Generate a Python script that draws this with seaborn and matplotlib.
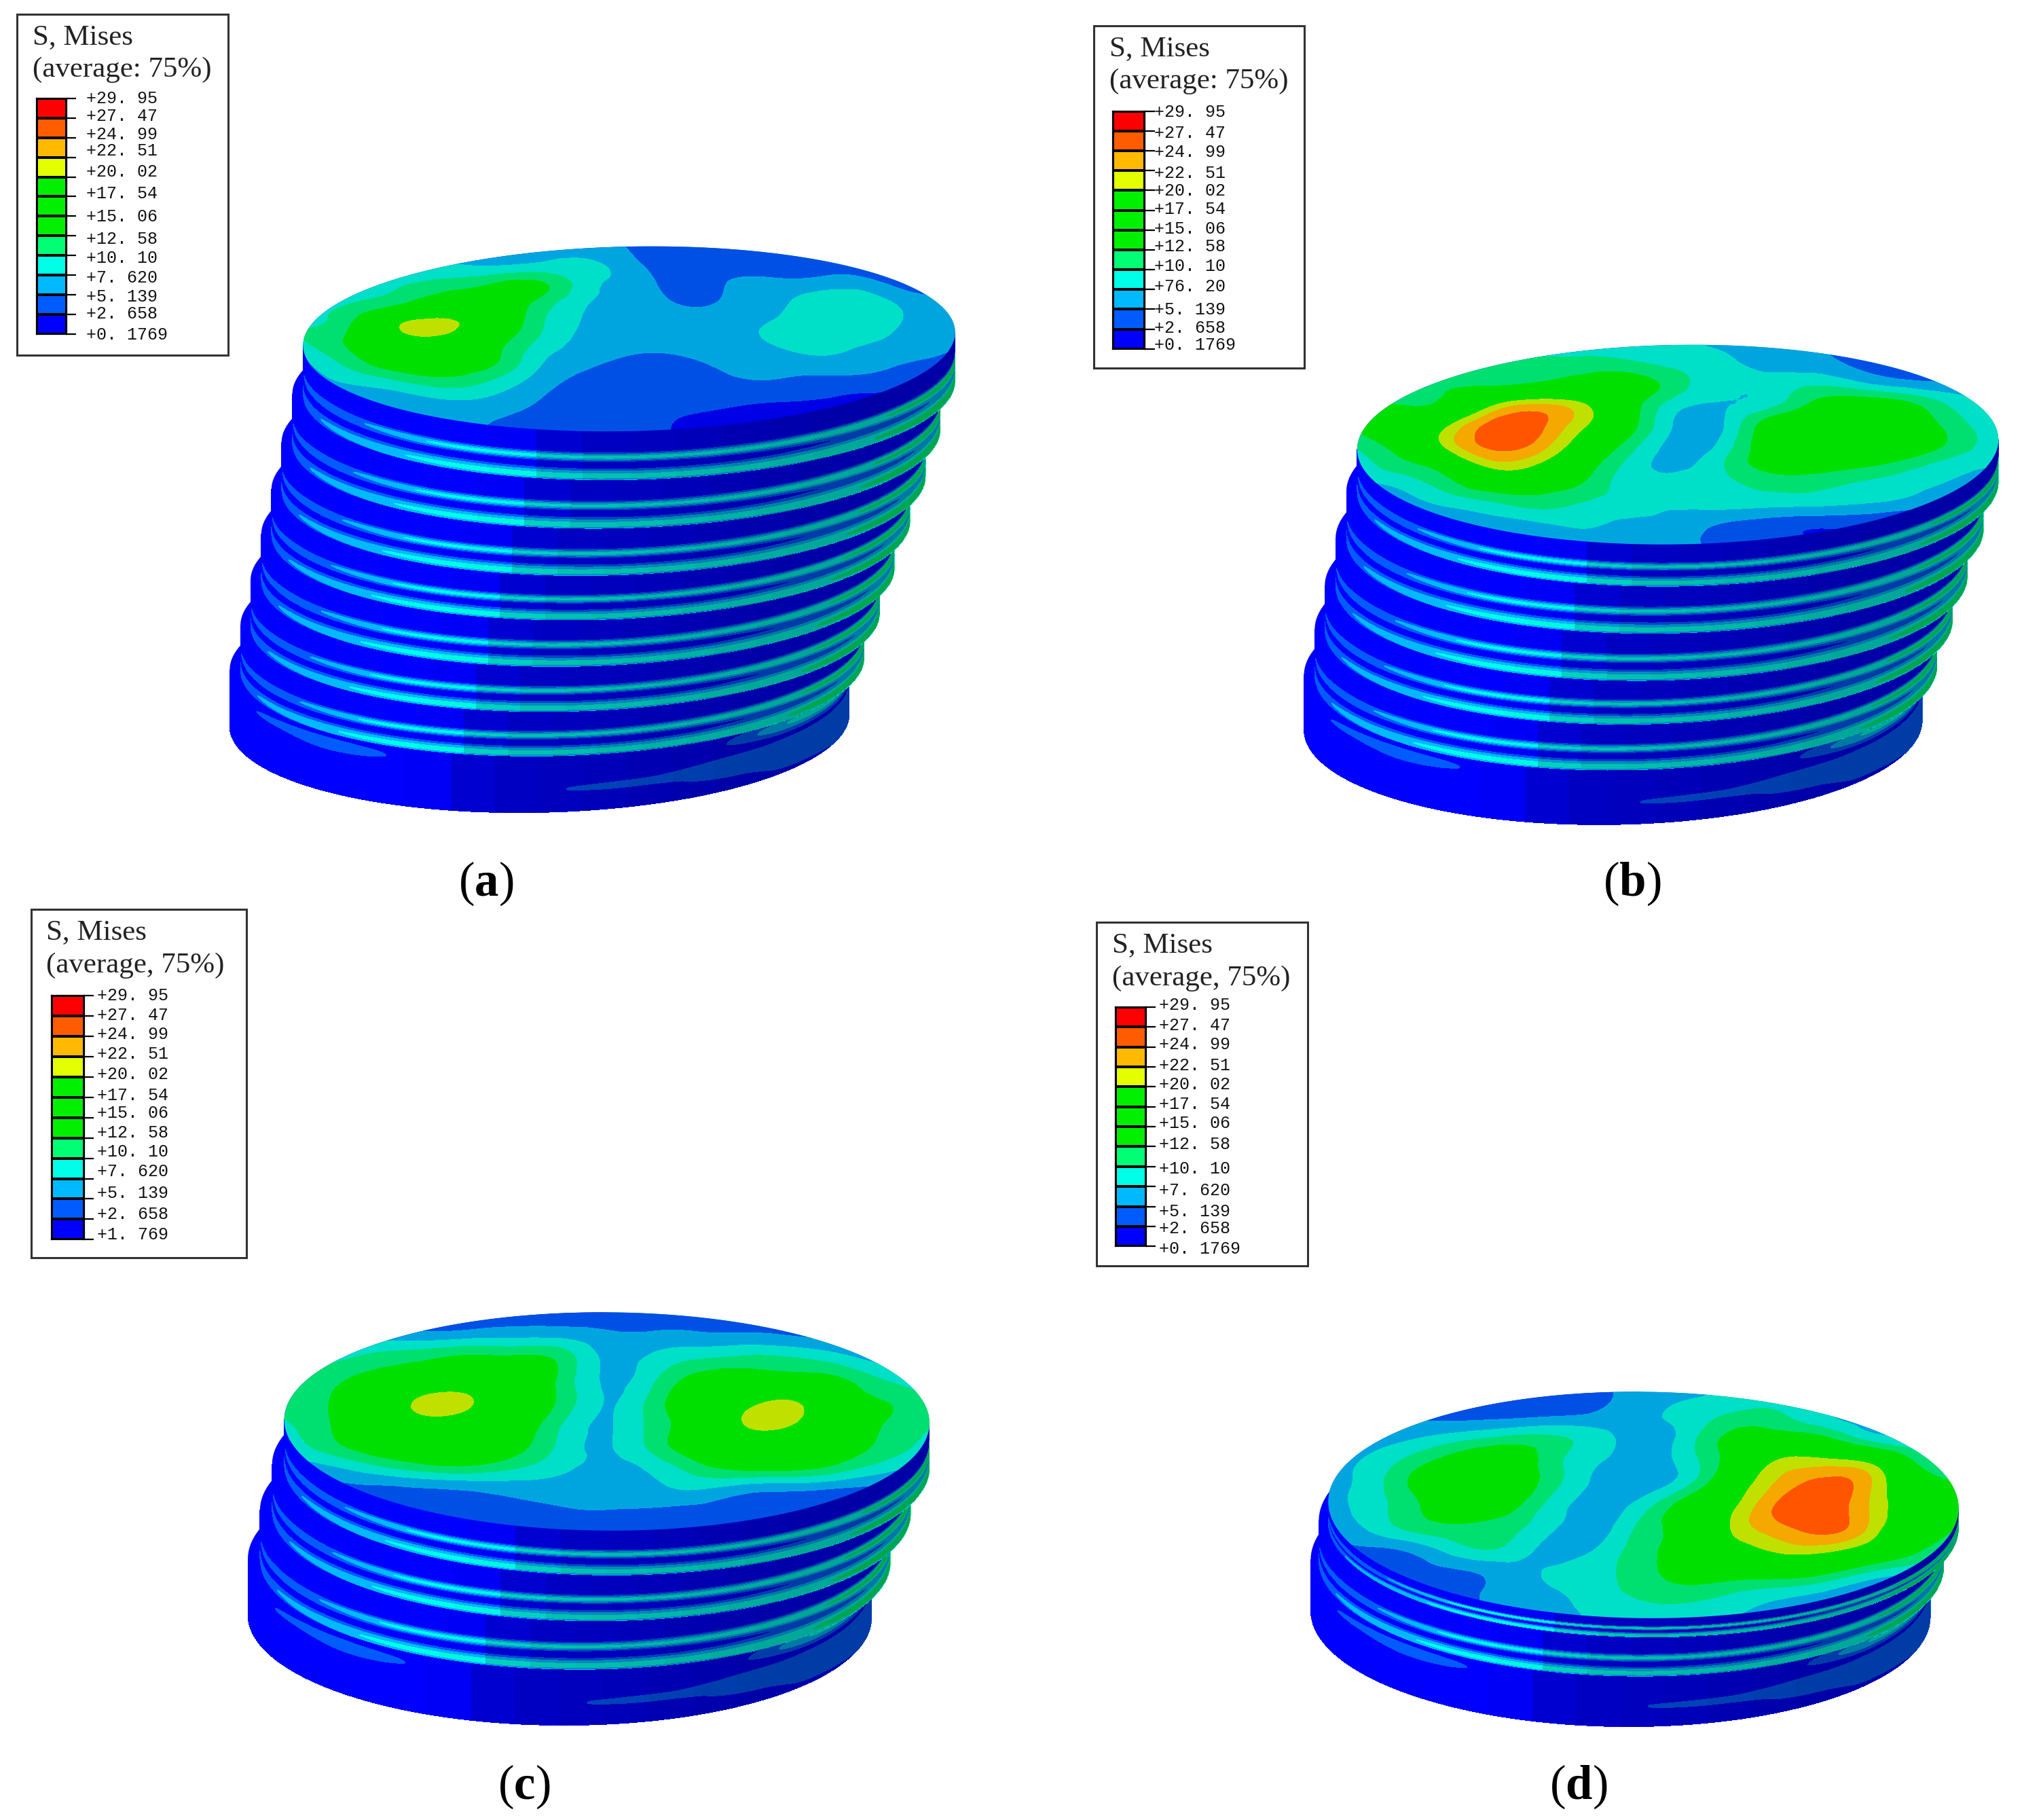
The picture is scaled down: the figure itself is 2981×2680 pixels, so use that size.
import numpy as np
import matplotlib
matplotlib.use("Agg")
import matplotlib.pyplot as plt
from matplotlib.colors import ListedColormap, BoundaryNorm
from matplotlib.patches import Polygon, Rectangle
from matplotlib.tri import Triangulation, UniformTriRefiner
import seaborn as sns

sns.set_theme(style="white")
plt.rcParams['font.family'] = ['Liberation Serif', 'DejaVu Sans']
plt.rcParams['mathtext.fontset'] = 'custom'
plt.rcParams['mathtext.bf'] = 'Liberation Serif:bold'

W, H = 2981, 2680
SCALE = 0.992  # my pixel readings run slightly wide

# Legend values (MPa), low to high
stress_ticks = [0.1769, 2.658, 5.139, 7.620, 10.10, 12.58, 15.06, 17.54, 20.02, 22.51, 24.99, 27.47, 29.95]
labels_a = ["+29. 95", "+27. 47", "+24. 99", "+22. 51", "+20. 02", "+17. 54", "+15. 06", "+12. 58", "+10. 10",
            "+7. 620", "+5. 139", "+2. 658", "+0. 1769"]
labels_b = labels_a[:9] + ["+76. 20"] + labels_a[10:]
labels_c = labels_a[:12] + ["+1. 769"]
labels_d = labels_a

legend_colors = ["#0000ff", "#005cff", "#00b9ff", "#00ffe8", "#00ff74", "#00f000", "#00f000", "#00f000",
                 "#e3ff00", "#ffb900", "#ff5c00", "#ff0000"]
surface_colors = ["#0000e6", "#0050e6", "#00a5e0", "#00dfc8", "#00e070", "#00e000", "#00e000", "#00e000",
                  "#c0e000", "#f5a800", "#ff5500", "#e60000"]

# Von Mises stress on each top plate: rows go from far rim to
# near rim, columns go left to right across the plate
top_a = [
    [7, 7, 7, 7, 7, 6.5, 6, 5, 3.5, 3.5, 2.5, 2, 2, 2, 3],
    [8, 8, 8.5, 8.5, 8, 8.5, 8.5, 6, 4, 4, 3.5, 3.5, 3, 3, 3.5],
    [8, 9, 10, 11.5, 13, 13.5, 9, 6.5, 4.5, 5, 5.5, 5.5, 5.5, 3, 4],
    [9, 10.5, 13, 16, 16, 12, 8, 6.5, 5, 5.2, 6.5, 8.5, 8.5, 6, 5],
    [10, 12.5, 19.5, 21, 17, 11, 7.5, 6.2, 6, 6, 7.3, 9, 9, 7.4, 5.5],
    [9.5, 13, 17, 18, 14.5, 10, 7, 6, 6, 6.2, 8, 9, 8.5, 7, 5.5],
    [7, 11, 14.5, 15, 13.5, 8.5, 6, 5, 5, 5.8, 6.5, 7.8, 7, 6, 5],
    [6, 8, 10, 12, 10.5, 7, 4.8, 4, 4, 5, 5.5, 5.5, 5.5, 4.5, 4],
    [6, 6, 6.5, 7.8, 7.5, 5.5, 4, 4, 4, 4, 4, 3.5, 3, 3, 3],
    [6, 6, 6, 6, 5.5, 4.5, 3.5, 3.5, 3, 2.5, 2, 2, 2, 2, 2],
    [6, 6, 6, 6, 5, 4, 3.5, 3.5, 2.5, 2, 2, 2, 2, 2, 2],
]
top_b = [
    [9, 9, 9, 9, 8.5, 8.5, 8, 8, 7, 6.5, 5.5, 4, 3, 3, 4],
    [11, 11, 11, 10.5, 11, 11.5, 11, 9.5, 8.5, 6.5, 6, 4.5, 4, 4, 5],
    [11.5, 12, 12.5, 13, 14, 15, 14.5, 11, 8.5, 8.5, 9.5, 7.5, 5.5, 5, 6],
    [12, 13, 14.5, 21, 23.5, 20.3, 14, 8.5, 7.5, 9, 13, 14, 12.5, 9, 8],
    [12.6, 15, 20.5, 26.5, 25.5, 20, 13.5, 7, 7.5, 14, 16, 16, 15, 11, 9],
    [10, 14, 20.5, 25.5, 23.5, 17, 11, 6.5, 8.5, 15, 17, 17, 16, 12, 9],
    [8.5, 11, 14.5, 20.5, 19, 14, 9, 7, 10, 14, 15, 14, 12, 9.5, 8.5],
    [7, 7.8, 11, 14, 14, 12, 8.5, 8.5, 9.5, 11, 11, 10, 9, 7.5, 6],
    [7, 7, 7.5, 9, 10.5, 9.5, 8.5, 8, 8.5, 8.5, 8.5, 8, 7, 5, 4],
    [6.5, 6.5, 6.5, 6.5, 7, 7.8, 7, 6.5, 5, 4, 3.5, 3.5, 3, 3, 3],
    [6, 6, 6, 6, 6, 6.5, 6.5, 6, 4, 3.5, 3, 3, 3, 3, 3],
]
top_c = [
    [5, 5, 5, 4.5, 4, 4, 4, 4, 4, 4, 4, 4, 4, 5, 6],
    [6.5, 6.5, 6, 5.5, 6, 6.5, 6.5, 5.5, 5.5, 5.5, 5.5, 5, 4.5, 5, 7],
    [9, 9, 10.5, 11.5, 12.6, 12.6, 11.5, 7, 8, 9.5, 10.3, 10, 8.5, 6.5, 7],
    [10, 11.5, 13.5, 15, 16, 16, 12, 7.2, 9.5, 13.5, 14, 14, 13, 10, 8],
    [11, 12.6, 16, 20.5, 20.4, 16, 12, 7.5, 11, 15, 18, 20, 15.5, 12.6, 10.5],
    [10, 12.6, 16, 19, 18, 15, 10.5, 7.4, 11, 15, 20.3, 20.5, 15.5, 12.6, 10.5],
    [8.5, 12, 15, 16, 16, 14, 9.5, 7.4, 11, 15, 17, 17, 14.5, 12, 9],
    [6.5, 8, 10.5, 12.5, 13, 11, 8.5, 7, 8.5, 12, 14, 14, 12, 9, 7],
    [3.5, 4.5, 5, 5.5, 6, 6.5, 6.5, 6.5, 7, 8, 6.5, 6, 5.2, 4.5, 4],
    [3, 3, 3.5, 4, 4, 4.5, 5, 5.2, 5, 4.5, 4, 3.5, 3, 3, 3],
    [3, 3, 3, 3, 3, 3, 3, 3.5, 3, 3, 3, 3, 3, 3, 3],
]
top_d = [
    [5, 5, 5, 4.5, 3.5, 3.5, 4.5, 6.5, 7, 8, 8.5, 8.5, 7, 7, 7],
    [5, 5, 4.5, 4, 4, 4.5, 5.5, 7, 8.5, 10.5, 10.5, 8, 6.5, 6.5, 6.5],
    [6, 6, 7, 8.5, 10, 10.2, 8.5, 6.5, 9, 13.5, 14.5, 13.5, 9.5, 8, 7],
    [6.5, 8, 11, 14, 15, 11, 8, 6.2, 9, 14.5, 20.3, 21, 19.5, 12.8, 8.5],
    [7, 9, 13.5, 15.5, 15, 11, 7, 6.2, 9.5, 17, 23, 26, 23, 16, 13],
    [7, 9, 12.5, 15, 14, 9, 6.8, 8.8, 14.5, 19.5, 25.5, 27, 22.5, 17, 13],
    [6, 8.5, 11.5, 12.3, 11, 8, 6.5, 11, 14.5, 20.4, 24, 25.8, 22, 15, 12.6],
    [4.5, 5, 6.5, 9.5, 9.5, 6.5, 8, 11.5, 15, 18, 20.3, 20.2, 17, 12.8, 9],
    [3, 2.4, 4, 5, 6.5, 8, 9.5, 11.5, 14, 14, 14, 12.5, 9, 7, 5],
    [3, 3, 3.5, 4.5, 6, 7.2, 9, 10.5, 11, 9.5, 8, 6.5, 4.5, 3.5, 3],
    [3, 3, 3, 4, 5.5, 6.5, 8, 8.5, 8, 7.5, 7, 5, 4, 3, 3],
]

# Stack geometry, one entry per plate from the top of the stack down
centre_a = [934, 915, 896, 877, 858, 839, 820, 801]
half_a = [484, 481, 478, 474, 470, 467, 463, 460]
rim_a = [640, 712, 784, 854, 920, 989, 1056, 1122, 1206]
centre_b = [2491, 2472, 2452, 2433, 2414, 2395]
half_b = [476, 473, 469, 466, 462, 459]
rim_b = [808, 870, 940, 1010, 1075, 1143, 1224]
centre_c = [901, 878, 854, 831]
half_c = [479, 474, 468, 463]
rim_c = [2272, 2338, 2406, 2478, 2561]
centre_d = [2440, 2422, 2406]
half_d = [468, 464, 460]
rim_d = [2402, 2430, 2488, 2563]

# Stress on the side of a plate: rows run down the rim, columns sweep evenly
# around the near half of the plate from left tip to right tip
side_rows = [0, .42, .5, .55, .6, .8, .86, .93, 1]
side_field = [
    [1, 1, 1, 1, 1, 1, 1, 1, 1, 1, 1, 1.5, 2, 3],
    [1.5, 1.5, 1.5, 1, 1, 1, 1, 1, 1.5, 1.5, 2, 2.5, 3, 4],
    [2.5, 3, 4, 5.5, 6.5, 6.8, 6.8, 6.8, 7, 7.5, 8.5, 9.5, 10.5, 11],
    [2.5, 3, 4, 5.5, 7.6, 7.9, 7.9, 7.9, 8, 8.5, 9.5, 10.5, 11, 11],
    [2, 2.5, 3, 3.5, 4, 4.2, 4.2, 4.2, 4.6, 5.5, 6.5, 7.5, 8.5, 9],
    [2, 2.5, 3, 3.5, 4, 4, 4, 4, 4.5, 5.5, 6.5, 7.5, 8.5, 9],
    [3, 4, 5, 6, 6.8, 7, 7, 7, 7.2, 7.8, 9, 10, 10.5, 11],
    [3, 4.5, 6, 7.2, 8, 8.2, 8.2, 8.2, 8.3, 8.8, 10, 10.8, 11, 11],
    [2, 3, 4, 5, 6, 6.5, 6.5, 6.5, 6.5, 7, 8, 9, 9, 9],
]
base_rows = [0, .1, .2, .35, .45, .6, .72, .85, 1]
base_field = [
    [1, 1, 1.5, 2, 1.5, 1, 1, 1, 1, 1.5, 2, 3, 4, 5],
    [1, 1.5, 3, 3.5, 3, 1.5, 1, 1, 1, 1.5, 5, 8, 9, 9],
    [1, 1, 1.5, 3, 3, 1, 1, 1, 1, 2, 6, 8, 9, 9],
    [1, 1, 1, 1, 1, 1, 1, 1, 1, 1, 1.5, 2, 2, 2],
    [1, 1, 1, 1, 1, 1, 1, 1, 1.5, 3, 3.5, 3.5, 3.5, 3.5],
    [1, 1, 1, 1, 1, 1, 1, 2.9, 3.2, 3.6, 3.6, 3.6, 3.6, 3.6],
    [1, 1, 1, 1, 1, 1, 1, 1, 1.5, 3.2, 3.6, 3.6, 3.6, 3.6],
    [1, 1, 1, 1, 1, 1, 1, 1, 1, 1, 3, 3.5, 3.5, 3.5],
    [1, 1, 1, 1, 1, 1, 1, 1, 1, 1, 1, 2, 3, 3.5],
]
side_shade = [1, 1, 1, 1, .97, .82, .76, .74, .72, .7, .68, .66, .65, .65]

fig = plt.figure(figsize=(W / 100, H / 100), dpi=100, facecolor="white")
ax = fig.add_axes([0, 0, 1, 1])
ax.set_xlim(0, W / SCALE)
ax.set_ylim(H / SCALE, 0)
ax.axis("off")


def draw_side(cx, cy, a, b, tilt, height, rows, field, zorder):
    # hidden top face, only its crescent shows past the plate above
    left = np.linspace(np.pi / 2, 3 * np.pi / 2, 91)
    right = np.linspace(-np.pi / 2, np.pi / 2, 91)
    for angles, colour in [(left, "#0000ff"), (right, "#008c9a")]:
        ax.add_patch(Polygon(np.c_[cx + a * np.cos(angles), cy + b * np.sin(angles) + tilt * a * np.cos(angles)],
                             closed=True, facecolor=colour, edgecolor="none", zorder=zorder))

    # contour bands, refined in (angle, depth) space so the rim stays round
    field = np.array(field)
    angle = np.linspace(np.pi, 0, field.shape[1])
    aa, zz = np.meshgrid(angle, np.array(rows))
    coarse = Triangulation(aa.ravel(), zz.ravel() * 2)
    fine, fine_field = UniformTriRefiner(coarse).refine_field(field.ravel(), subdiv=3)
    fa, fz = fine.x, fine.y / 2
    tri = Triangulation(cx + a * np.cos(fa), cy + b * np.sin(fa) + tilt * a * np.cos(fa) + fz * height,
                        fine.triangles)
    ax.tricontourf(tri, fine_field, levels=stress_ticks, colors=legend_colors, extend="both", zorder=zorder)

    # lighting: left half is full colour, right half goes darker
    theta = np.linspace(np.pi, 0, 241)
    mids = np.cos((theta[:-1] + theta[1:]) / 2)
    idx = np.clip(((mids + 1) / 2 * len(side_shade)).astype(int), 0, len(side_shade) - 1)
    shade = np.zeros((1, 240, 4))
    shade[0, :, 3] = 1 - np.array(side_shade)[idx]
    x = np.tile(cx + a * np.cos(theta), (2, 1))
    y = cy + b * np.sin(theta) + tilt * a * np.cos(theta) + np.array([[0], [1]]) * height
    ax.pcolormesh(x, y, shade, shading="flat", linewidth=0, antialiased=False, zorder=zorder)


def draw_top(cx, cy, a, b, tilt, field, zorder):
    field = np.array(field)
    u = np.linspace(-1, 1, field.shape[1])
    v = np.linspace(-1, 1, field.shape[0])
    uu, vv = np.meshgrid(u, v)
    tri = Triangulation((cx + a * uu).ravel(), (cy + b * vv + tilt * a * uu).ravel())
    fine_tri, fine_field = UniformTriRefiner(tri).refine_field(field.ravel(), subdiv=3)
    cs = ax.tricontourf(fine_tri, fine_field, levels=stress_ticks, colors=surface_colors,
                        extend="both", zorder=zorder)
    theta = np.linspace(0, 2 * np.pi, 361)
    outline = Polygon(np.c_[cx + a * np.cos(theta), cy + b * np.sin(theta) + tilt * a * np.cos(theta)],
                      closed=True, fill=False, edgecolor="none", zorder=zorder)
    ax.add_patch(outline)
    cs.set_clip_path(outline)


def draw_stack(centres, halves, rims, b, tilt, field):
    n = len(centres)
    for i in range(n - 1, -1, -1):
        zorder = 2 + (n - i)
        rows, values = (base_rows, base_field) if i == n - 1 else (side_rows, side_field)
        draw_side(centres[i], rims[i] - b, halves[i], b, tilt, rims[i + 1] - rims[i], rows, values, zorder)
    draw_top(centres[0], rims[0] - b, halves[0], b, tilt, field, 3 + n)


def draw_legend(box, bar, text_x, text_y, title, labels):
    x0, y0, x1, y1 = box
    ax.add_patch(Rectangle((x0, y0), x1 - x0, y1 - y0, fill=False, edgecolor="#333333", linewidth=2.2, zorder=30))
    ax.text(x0 + 23, y0 + 34, "S, Mises", fontsize=31, va="center", ha="left", color="#222222", zorder=31)
    ax.text(x0 + 23, y0 + 83, title, fontsize=31, va="center", ha="left", color="#222222", zorder=31)

    bx0, by0, bx1, by1 = [v * SCALE for v in bar]
    cax = fig.add_axes([bx0 / W, 1 - by1 / H, (bx1 - bx0) / W, (by1 - by0) / H])
    mids = (np.array(stress_ticks[1:]) + np.array(stress_ticks[:-1])) / 2
    sns.heatmap(mids[::-1].reshape(-1, 1), ax=cax, cmap=ListedColormap(legend_colors),
                norm=BoundaryNorm(stress_ticks, 12), cbar=False, linewidths=1.6, linecolor="black",
                xticklabels=False, yticklabels=False)
    cax.hlines(np.arange(13), 1, 1.3, color="black", linewidth=1.6, clip_on=False)
    for spine in cax.spines.values():
        spine.set_visible(True)
        spine.set_color("black")
        spine.set_linewidth(1.6)

    for label, y in zip(labels, text_y):
        ax.text(text_x, y * H / 1398, label, family="Liberation Mono", fontsize=18, va="center", ha="left",
                color="#111111", zorder=31)


panels = [
    (centre_a, half_a, rim_a, 137, -0.02, top_a),
    (centre_b, half_b, rim_b, 148, -0.015, top_b),
    (centre_c, half_c, rim_c, 162, 0.005, top_c),
    (centre_d, half_d, rim_d, 168, 0.01, top_d),
]
for panel in panels:
    draw_stack(*panel)

draw_legend((25, 21, 339, 527), (54, 146, 99, 496), 128,
            [76, 90, 104, 117, 133, 150, 168, 185, 200, 215, 230, 243, 259],
            "(average: 75%)", labels_a)
draw_legend((1624, 38, 1936, 546), (1652, 165, 1700, 518), 1714,
            [87, 103, 118, 134, 148, 162, 177, 191, 206, 222, 240, 254, 267],
            "(average: 75%)", labels_b)
draw_legend((46, 1350, 366, 1867), (77, 1478, 125, 1840), 144,
            [771, 786, 801, 816, 832, 848, 862, 877, 892, 907, 924, 940, 956],
            "(average, 75%)", labels_c)
draw_legend((1628, 1369, 1942, 1879), (1656, 1495, 1702, 1850), 1721,
            [778, 794, 809, 825, 840, 855, 870, 886, 905, 922, 938, 951, 967],
            "(average, 75%)", labels_d)

for letter, x, y in [("a", 721, 1312), ("b", 2423, 1312), ("c", 778, 2652), ("d", 2343, 2652)]:
    ax.text(x, y, "(" + r"$\mathbf{" + letter + "}$" + ")", fontsize=51, ha="center", va="center", color="black", zorder=31)

fig.savefig("out.png", dpi=100, facecolor="white")
